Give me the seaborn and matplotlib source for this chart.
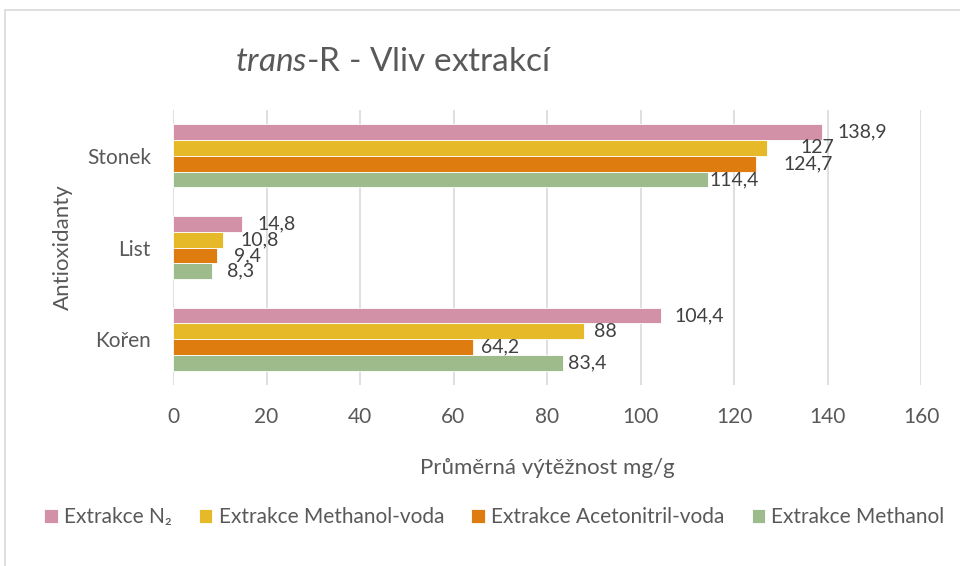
import matplotlib
matplotlib.use("Agg")
import matplotlib.pyplot as plt
import seaborn as sns
import pandas as pd
from matplotlib.patches import Rectangle

# data
categories = ["Stonek", "List", "Kořen"]
series = ["Extrakce N₂", "Extrakce Methanol-voda", "Extrakce Acetonitril-voda", "Extrakce Methanol"]
vals_n2 = [138.9, 14.8, 104.4]
vals_meoh_voda = [127, 10.8, 88]
vals_acn_voda = [124.7, 9.4, 64.2]
vals_meoh = [114.4, 8.3, 83.4]

colors = ["#D291A6", "#E5B928", "#DF7C10", "#9DBB8B"]
txt = "#595959"

rows = []
for s, vals in zip(series, [vals_n2, vals_meoh_voda, vals_acn_voda, vals_meoh]):
    for c, v in zip(categories, vals):
        rows.append({"kat": c, "serie": s, "hodnota": v})
df = pd.DataFrame(rows)

sns.set_style("white")
plt.rcParams["font.family"] = ["Lato", "DejaVu Sans"]
plt.rcParams["mathtext.fontset"] = "custom"
plt.rcParams["mathtext.it"] = "Lato:italic"
plt.rcParams["mathtext.rm"] = "Lato"

fig = plt.figure(figsize=(9.6, 5.66), dpi=100)
ax = fig.add_axes([173 / 960, 1 - 385 / 566, 748 / 960, 275 / 566])

sns.barplot(data=df, y="kat", x="hodnota", hue="serie", order=categories,
            hue_order=series, palette=colors, saturation=1, orient="h", width=0.69, gap=0,
            edgecolor="white", linewidth=0.6, ax=ax, legend=True)

# label offsets in points (the source has manually nudged labels)
pads = [[11, 11, 10], [24, 12, 7], [20, 12, 6], [1, 11, 4]]
for cont, p in zip(ax.containers, pads):
    for bar, pad in zip(cont, p):
        w = bar.get_width()
        ax.annotate(f"{w:g}".replace(".", ","), (w, bar.get_y() + bar.get_height() / 2),
                    xytext=(pad, 0), textcoords="offset points", va="center", ha="left",
                    fontsize=14, color="#404040")

ax.set_xlim(0, 160)
ax.set_xticks(range(0, 161, 20))
ax.grid(axis="x", color="#D9D9D9", linewidth=1.2)
ax.set_axisbelow(True)
for sp in ax.spines.values():
    sp.set_visible(False)
ax.tick_params(axis="x", length=0, labelsize=15, colors=txt, pad=16)
ax.tick_params(axis="y", length=0, labelsize=15, colors=txt, pad=16)
ax.set_xlabel("Průměrná výtěžnost mg/g", fontsize=16, color=txt, labelpad=22)
ax.set_ylabel("Antioxidanty", fontsize=16, color=txt, labelpad=10)

handles, labels = ax.get_legend_handles_labels()
ax.legend_.remove()
fig.legend(handles, labels, loc="center", bbox_to_anchor=(0.515, 1 - 517 / 566), ncol=4,
           frameon=False, fontsize=15, labelcolor=txt, handlelength=0.65, handleheight=0.65,
           handletextpad=0.3, columnspacing=1.3)

fig.text(235 / 960, 1 - 62 / 566, r"$\it{trans}$-R - Vliv extrakcí", fontsize=24,
         color=txt, ha="left", va="center")

fig.patches.append(Rectangle((5 / 960, -0.1), 1.2, 1 - 10 / 566 + 0.1, transform=fig.transFigure,
                             fill=False, edgecolor="#D9D9D9", linewidth=1.2))

fig.savefig("out.png", dpi=100)
